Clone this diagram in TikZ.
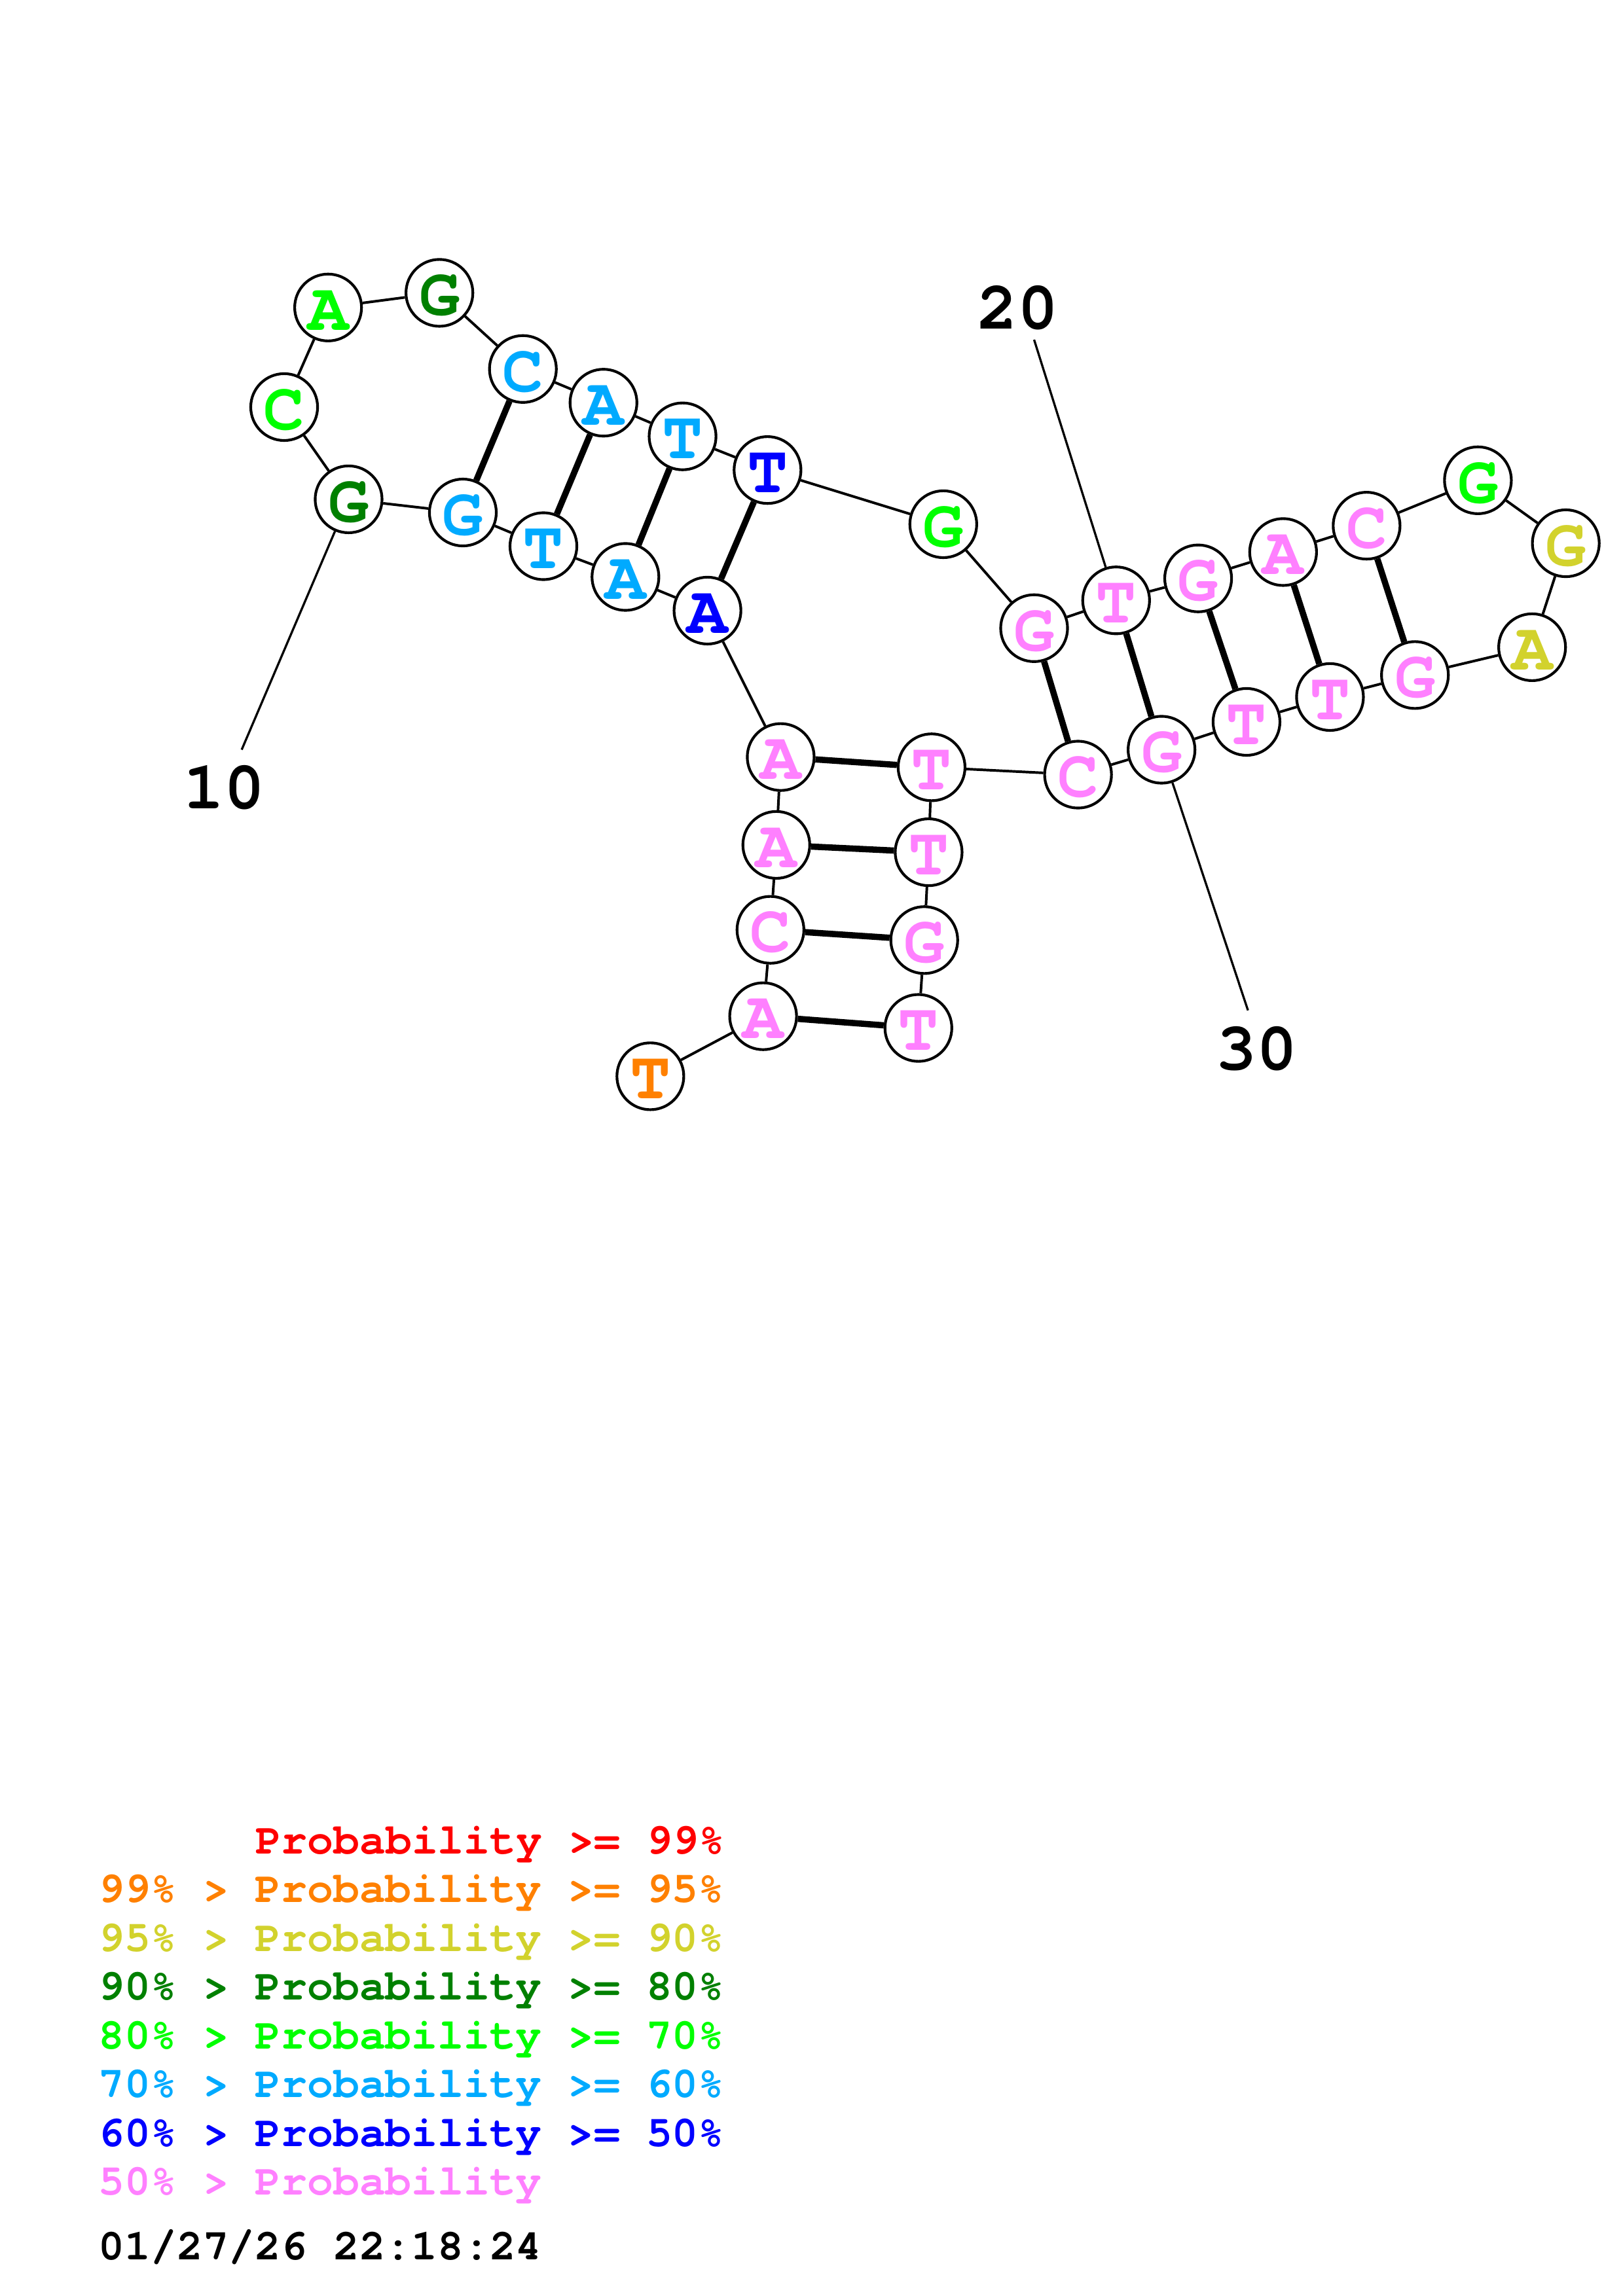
\documentclass[tikz,border=0pt]{standalone}
\usepackage{fontspec}
\setmainfont{TeX Gyre Cursor}
\definecolor{cred}{RGB}{255,0,0}
\definecolor{corange}{RGB}{255,128,0}
\definecolor{cyellow}{RGB}{210,210,45}
\definecolor{cdgreen}{RGB}{0,128,0}
\definecolor{cgreen}{RGB}{0,255,0}
\definecolor{clblue}{RGB}{0,170,255}
\definecolor{cblue}{RGB}{0,0,255}
\definecolor{cpink}{RGB}{255,128,255}
\tikzset{
  nt/.style={circle, draw=black, line width=1pt, fill=white, minimum size=8.65mm, inner sep=0pt,
    text height=16.5pt, text depth=0pt,
    font=\fontsize{25}{25}\selectfont\bfseries, text=#1},
  bb/.style={line width=0.95pt},
  pr/.style={line width=2.3pt},
  lead/.style={line width=0.8pt},
  num/.style={font=\fontsize{25}{25}\selectfont\bfseries, inner sep=0pt},
  leg/.style={anchor=base west, inner sep=0pt, font=\fontsize{16}{16}\selectfont\bfseries, text=#1}
}
\begin{document}
\begin{tikzpicture}[x=0.18953mm, y=-0.18953mm]
\useasboundingbox (0,0) rectangle (1108,1568);
% nucleotides
\node[nt=corange] (n1) at (444,735) {T};
\node[nt=cpink] (n2) at (521,694) {A};
\node[nt=cpink] (n3) at (526,635) {C};
\node[nt=cpink] (n4) at (530,577) {A};
\node[nt=cpink] (n5) at (533,517) {A};
\node[nt=cblue] (n6) at (483,417) {A};
\node[nt=clblue] (n7) at (427,394) {A};
\node[nt=clblue] (n8) at (371,373) {T};
\node[nt=clblue] (n9) at (316,350) {G};
\node[nt=cdgreen] (n10) at (238,341) {G};
\node[nt=cgreen] (n11) at (194,278) {C};
\node[nt=cgreen] (n12) at (224,210) {A};
\node[nt=cdgreen] (n13) at (300,200) {G};
\node[nt=clblue] (n14) at (357,252) {C};
\node[nt=clblue] (n15) at (412,275) {A};
\node[nt=clblue] (n16) at (466,298) {T};
\node[nt=cblue] (n17) at (524,321) {T};
\node[nt=cgreen] (n18) at (644,358) {G};
\node[nt=cpink] (n19) at (706,429) {G};
\node[nt=cpink] (n20) at (762,410) {T};
\node[nt=cpink] (n21) at (818,395) {G};
\node[nt=cpink] (n22) at (876,377) {A};
\node[nt=cpink] (n23) at (933,359) {C};
\node[nt=cgreen] (n24) at (1009,328) {G};
\node[nt=cyellow] (n25) at (1069,371) {G};
\node[nt=cyellow] (n26) at (1046,442) {A};
\node[nt=cpink] (n27) at (966,461) {G};
\node[nt=cpink] (n28) at (908,476) {T};
\node[nt=cpink] (n29) at (851,493) {T};
\node[nt=cpink] (n30) at (793,512) {G};
\node[nt=cpink] (n31) at (736,529) {C};
\node[nt=cpink] (n32) at (636,524) {T};
\node[nt=cpink] (n33) at (634,582) {T};
\node[nt=cpink] (n34) at (631,642) {G};
\node[nt=cpink] (n35) at (627,702) {T};
% backbone
\foreach \a/\b in {1/2,2/3,3/4,4/5,5/6,6/7,7/8,8/9,9/10,10/11,11/12,12/13,13/14,14/15,15/16,16/17,17/18,18/19,19/20,20/21,21/22,22/23,23/24,24/25,25/26,26/27,27/28,28/29,29/30,30/31,31/32,32/33,33/34,34/35}
  \draw[bb] (n\a) -- (n\b);
% pairs
\foreach \a/\b in {2/35,3/34,4/33,5/32,6/17,7/16,8/15,9/14,19/31,20/30,21/29,22/28,23/27}
  \draw[pr] (n\a) -- (n\b);
% numbering
\node[num] (l10) at (153,538) {10};
\node[num] (l20) at (695,210) {20};
\node[num] (l30) at (858,716) {30};
\coordinate (e10) at (165,512);
\coordinate (e20) at (706,232);
\coordinate (e30) at (852,690);
\draw[lead] (e10) -- (n10);
\draw[lead] (e20) -- (n20);
\draw[lead] (e30) -- (n30);
% legend
\node[leg=cred] (g1) at (174,1266) {Probability >= 99\%};
\node[leg=corange] (g2) at (67,1299.3) {99\% > Probability >= 95\%};
\node[leg=cyellow] (g3) at (67,1332.6) {95\% > Probability >= 90\%};
\node[leg=cdgreen] (g4) at (67,1365.9) {90\% > Probability >= 80\%};
\node[leg=cgreen] (g5) at (67,1399.2) {80\% > Probability >= 70\%};
\node[leg=clblue] (g6) at (67,1432.5) {70\% > Probability >= 60\%};
\node[leg=cblue] (g7) at (67,1465.8) {60\% > Probability >= 50\%};
\node[leg=cpink] (g8) at (67,1499.1) {50\% > Probability};
\node[leg=black] (g9) at (67,1543.3) {01/27/26 22:18:24};
\end{tikzpicture}
\end{document}
